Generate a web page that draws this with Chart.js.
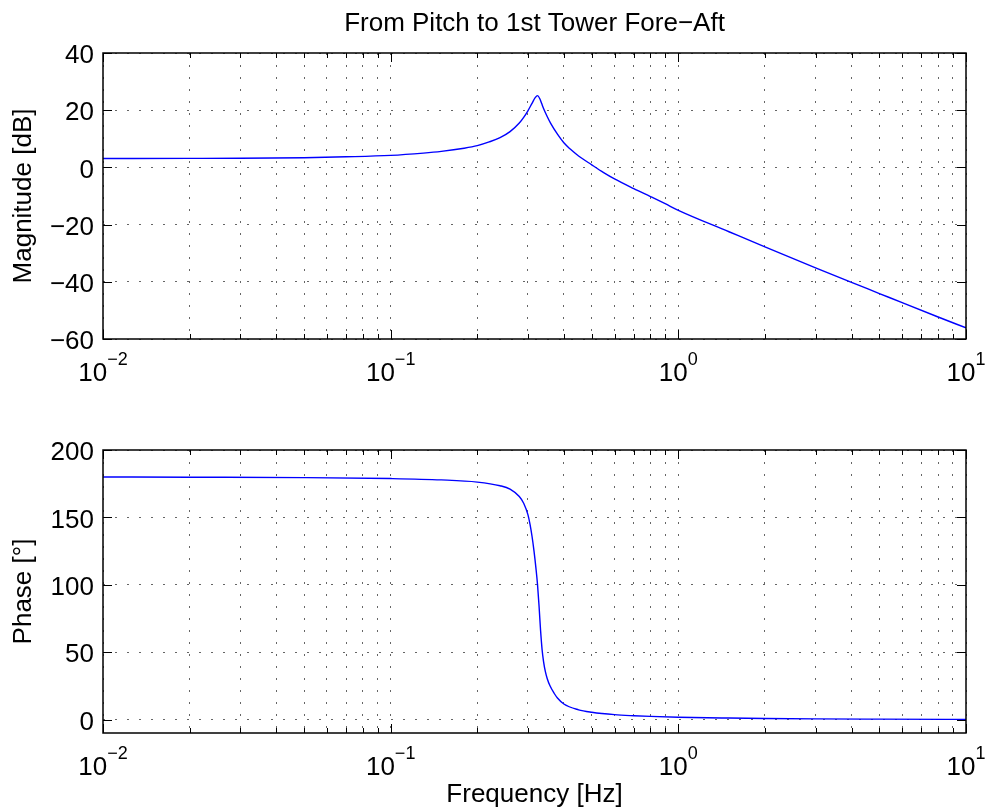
<!DOCTYPE html>
<html>
<head>
<meta charset="utf-8">
<script src="https://cdn.jsdelivr.net/npm/chart.js@4/dist/chart.umd.min.js"></script>
<style>
  html, body { margin: 0; padding: 0; background: #fff; }
  #wrap { position: relative; width: 985px; height: 812px; }
  .pane { position: absolute; left: 0; width: 985px; height: 406px; }
</style>
</head>
<body>
<div id="wrap">
  <div class="pane" style="top:0"><canvas id="mag"></canvas></div>
  <div class="pane" style="top:406px"><canvas id="phase"></canvas></div>
</div>
<script>
// Bode response: pitch input to first tower fore-aft mode
const freqMag = [0.01, 0.02, 0.03, 0.05, 0.07, 0.1, 0.13, 0.15, 0.18, 0.2, 0.22, 0.24, 0.26, 0.28, 0.29, 0.3, 0.31, 0.318, 0.324, 0.33, 0.335, 0.34, 0.35, 0.36, 0.38, 0.4, 0.42, 0.45, 0.5, 0.55, 0.6, 0.7, 0.8, 0.9, 1, 1.5, 2, 3, 4, 5, 6, 8, 10];
const magnitudeDb = [3.1, 3.15, 3.2, 3.4, 3.7, 4.2, 5.0, 5.6, 6.7, 7.6, 8.9, 10.4, 12.5, 15.5, 17.5, 19.8, 22.4, 24.4, 25.1, 24.0, 22.3, 20.6, 17.8, 15.4, 11.6, 8.6, 6.5, 4.0, 0.9, -1.8, -4.0, -7.4, -10.2, -12.7, -15.0, -22.5, -27.8, -35.1, -40.2, -44.1, -47.3, -52.3, -56.1];

const freqPhase = [0.01, 0.02, 0.05, 0.1, 0.15, 0.2, 0.24, 0.26, 0.28, 0.29, 0.3, 0.305, 0.31, 0.315, 0.32, 0.324, 0.328, 0.332, 0.336, 0.34, 0.345, 0.35, 0.358, 0.37, 0.38, 0.4, 0.45, 0.5, 0.6, 0.7, 0.8, 1, 1.5, 2, 3, 5, 10];
const phaseDeg = [180.0, 179.8, 179.5, 178.8, 177.8, 176.2, 173.5, 171.0, 165.5, 160.5, 152.0, 145.0, 136.0, 125.0, 112.0, 100.0, 84.0, 66.0, 52.0, 43.0, 35.5, 30.5, 25.0, 19.5, 16.0, 11.5, 7.2, 5.4, 3.6, 2.8, 2.3, 1.7, 1.1, 0.8, 0.5, 0.3, 0.1];

// Log-axis grid: every integer multiple within each decade
const freqGridTicks = [0.01, 0.02, 0.03, 0.04, 0.05, 0.06, 0.07, 0.08, 0.09,
                       0.1, 0.2, 0.3, 0.4, 0.5, 0.6, 0.7, 0.8, 0.9,
                       1, 2, 3, 4, 5, 6, 7, 8, 9, 10];
const decadeValues = [0.01, 0.1, 1, 10];
const decadeExponents = ['\u22122', '\u22121', '0', '1'];

const magTicks = [-60, -40, -20, 0, 20, 40];
const phaseTicks = [0, 50, 100, 150, 200];

const FONT = '"Liberation Sans", Arial, Helvetica, sans-serif';
const fmtTick = v => (v < 0 ? '\u2212' + Math.abs(v) : String(v));

// Box, inward tick marks and 10^n labels, drawn the way MATLAB axes look
const axesFrame = {
  id: 'axesFrame',
  afterDraw(chart) {
    const { ctx, chartArea: a, scales: { x, y } } = chart;
    ctx.save();
    ctx.strokeStyle = '#000';
    ctx.lineWidth = 1;
    ctx.beginPath();
    x.ticks.forEach(t => {
      const lg = Math.log10(t.value);
      const major = Math.abs(lg - Math.round(lg)) < 1e-9;
      const len = major ? 9 : 5;
      const px = Math.round(x.getPixelForValue(t.value)) + 0.5;
      ctx.moveTo(px, a.bottom); ctx.lineTo(px, a.bottom - len);
      ctx.moveTo(px, a.top); ctx.lineTo(px, a.top + len);
    });
    y.ticks.forEach(t => {
      const py = Math.round(y.getPixelForValue(t.value)) + 0.5;
      ctx.moveTo(a.left, py); ctx.lineTo(a.left + 9, py);
      ctx.moveTo(a.right, py); ctx.lineTo(a.right - 9, py);
    });
    ctx.stroke();

    ctx.lineWidth = 1.5;
    ctx.strokeRect(a.left, a.top, a.right - a.left, a.bottom - a.top);

    ctx.fillStyle = '#000';
    ctx.textBaseline = 'alphabetic';
    ctx.textAlign = 'left';
    const baseY = a.bottom + 41.5;
    decadeValues.forEach((v, i) => {
      const px = x.getPixelForValue(v);
      const exp = decadeExponents[i];
      ctx.font = '26px ' + FONT;
      const bw = ctx.measureText('10').width;
      ctx.font = '18px ' + FONT;
      const ew = ctx.measureText(exp).width;
      const left = px - (bw + ew) / 2;
      ctx.font = '26px ' + FONT;
      ctx.fillText('10', left, baseY);
      ctx.font = '18px ' + FONT;
      ctx.fillText(exp, left + bw, baseY - 16);
    });
    ctx.restore();
  }
};

function xScale(heightPx, title) {
  return {
    type: 'logarithmic',
    min: 0.01,
    max: 10,
    afterBuildTicks: s => { s.ticks = freqGridTicks.map(v => ({ value: v })); },
    afterFit: s => { s.height = heightPx; },
    ticks: { display: false },
    grid: { color: 'rgba(0,0,0,0.6)', lineWidth: 1, drawTicks: false },
    border: { display: false, dash: [2, 10] },
    title: title
  };
}

function yScale(min, max, ticks, label) {
  return {
    min: min,
    max: max,
    afterBuildTicks: s => { s.ticks = ticks.map(v => ({ value: v })); },
    afterFit: s => { s.width = 103; },
    ticks: {
      color: '#000',
      padding: 9,
      labelOffset: 3,
      font: { family: FONT, size: 26 },
      callback: v => fmtTick(v)
    },
    grid: { color: 'rgba(0,0,0,0.6)', lineWidth: 1, drawTicks: false },
    border: { display: false, dash: [2, 10] },
    title: {
      display: true,
      text: label,
      color: '#000',
      font: { family: FONT, size: 26 },
      padding: { top: 8, bottom: 0 }
    }
  };
}

function series(xs, ys) {
  return xs.map((f, i) => ({ x: f, y: ys[i] }));
}

const lineStyle = {
  borderColor: '#0000ff',
  borderWidth: 1.4,
  pointRadius: 0,
  fill: false,
  cubicInterpolationMode: 'monotone'
};

new Chart(document.getElementById('mag'), {
  type: 'line',
  data: { datasets: [Object.assign({ data: series(freqMag, magnitudeDb) }, lineStyle)] },
  options: {
    responsive: true,
    maintainAspectRatio: false,
    animation: false,
    layout: { padding: { left: 0, right: 19, top: 0, bottom: 0 } },
    plugins: {
      legend: { display: false },
      tooltip: { enabled: false },
      title: {
        display: true,
        fullSize: false,
        text: 'From Pitch to 1st Tower Fore\u2212Aft',
        color: '#000',
        font: { family: FONT, size: 26, weight: 'normal' },
        padding: { top: 8, bottom: 13.8 }
      }
    },
    scales: {
      x: xScale(67, { display: false }),
      y: yScale(-60, 40, magTicks, 'Magnitude [dB]')
    }
  },
  plugins: [axesFrame]
});

new Chart(document.getElementById('phase'), {
  type: 'line',
  data: { datasets: [Object.assign({ data: series(freqPhase, phaseDeg) }, lineStyle)] },
  options: {
    responsive: true,
    maintainAspectRatio: false,
    animation: false,
    layout: { padding: { left: 0, right: 19, top: 44, bottom: 0 } },
    plugins: {
      legend: { display: false },
      tooltip: { enabled: false }
    },
    scales: {
      x: xScale(79, {
        display: true,
        text: 'Frequency [Hz]',
        color: '#000',
        font: { family: FONT, size: 26 },
        padding: { top: 0, bottom: 2 }
      }),
      y: yScale(-10, 200, phaseTicks, 'Phase [\u00b0]')
    }
  },
  plugins: [axesFrame]
});
</script>
</body>
</html>
